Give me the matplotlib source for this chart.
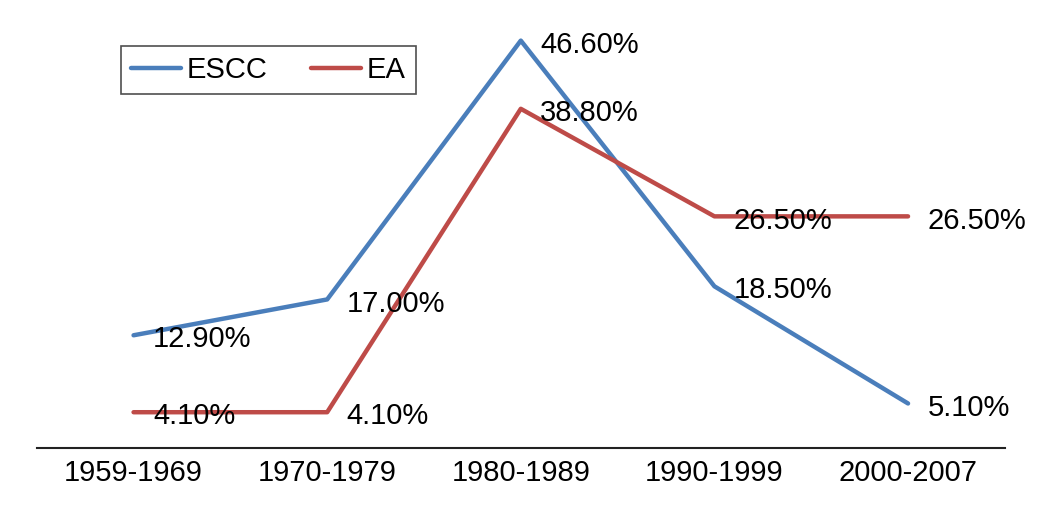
import matplotlib.pyplot as plt

periods = ["1959-1969", "1970-1979", "1980-1989", "1990-1999", "2000-2007"]
escc = [12.9, 17.0, 46.6, 18.5, 5.1]
ea = [4.1, 4.1, 38.8, 26.5, 26.5]

plt.rcParams["font.family"] = ["Liberation Sans", "DejaVu Sans"]

fig = plt.figure(figsize=(10.5, 5.18), dpi=100)
ax = fig.add_axes([0.035, 0.135, 0.922, 0.844])

x = range(len(periods))
ax.plot(x, escc, color="#4A7EBB", lw=3.2, label="ESCC", solid_capstyle="round")
ax.plot(x, ea, color="#BE4B48", lw=3.2, label="EA", solid_capstyle="round")

# data labels right of each point
for xs, ys in [(x, escc), (x, ea)]:
    for xi, yi in zip(xs, ys):
        ax.annotate(f"{yi:.2f}%", (xi, yi), xytext=(14, -3), textcoords="offset points",
                    ha="left", va="center", fontsize=21)

ax.set_xlim(-0.5, 4.5)
ax.set_ylim(0, 50)
ax.set_xticks(list(x))
ax.set_xticklabels(periods, fontsize=21)
ax.tick_params(axis="x", length=0, pad=8)
ax.set_yticks([])
for s in ["top", "right", "left"]:
    ax.spines[s].set_visible(False)
ax.spines["bottom"].set_linewidth(1.5)
ax.spines["bottom"].set_color("#222222")

leg = ax.legend(loc="upper left", bbox_to_anchor=(0.087, 0.92), ncol=2, fontsize=21,
                frameon=True, fancybox=False, handlelength=1.7, handletextpad=0.2,
                columnspacing=1.5, borderpad=0.35, borderaxespad=0)
leg.get_frame().set_edgecolor("#222222")
leg.get_frame().set_linewidth(1.2)

fig.savefig("out.png", dpi=100)
